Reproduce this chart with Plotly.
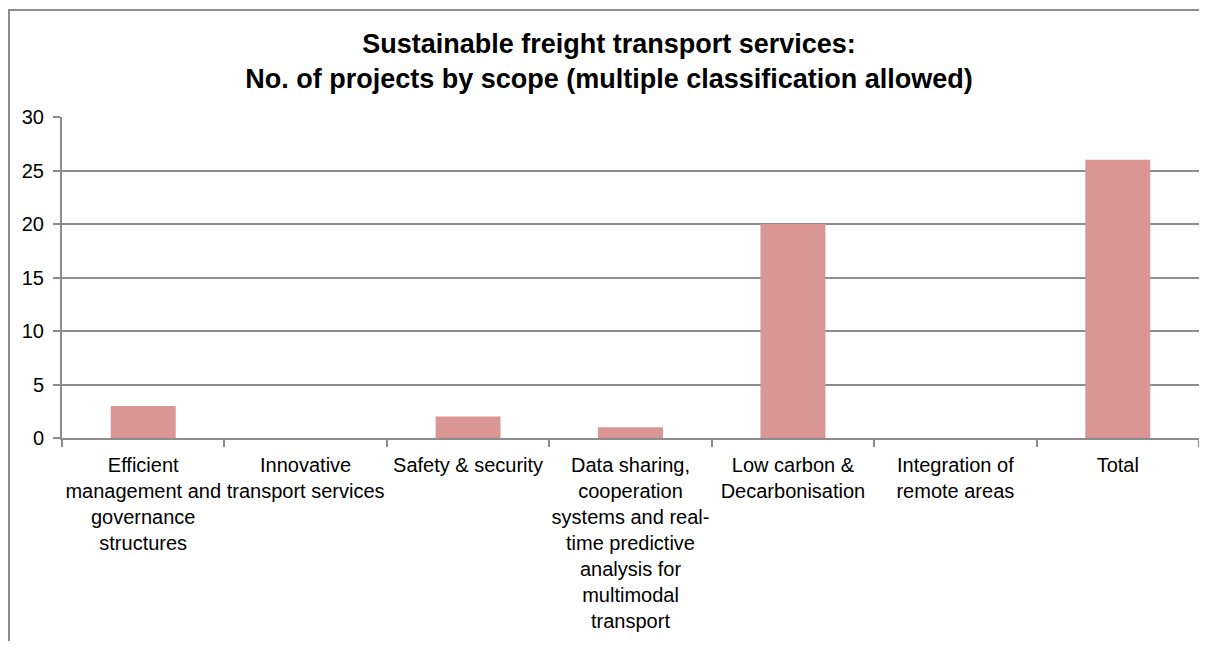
import plotly.graph_objects as go

categories = [
    "Efficient<br>management and<br>governance<br>structures",
    "Innovative<br>transport services",
    "Safety & security",
    "Data sharing,<br>cooperation<br>systems and real-<br>time predictive<br>analysis for<br>multimodal<br>transport",
    "Low carbon &<br>Decarbonisation",
    "Integration of<br>remote areas",
    "Total",
]
values = [3, 0, 2, 1, 20, 0, 26]
y_ticks = [0, 5, 10, 15, 20, 25, 30]

title_text = ("<b>Sustainable freight transport services:<br>"
              "No. of projects by scope (multiple classification allowed)</b>")

# page has an 8px body margin; figure coordinates are page coordinates - 8
W, H = 1191, 633
ml, mr, mt, mb = 54, 0, 109, 203
pw = W - ml - mr
ph = H - mt - mb

fig = go.Figure()
fig.add_trace(go.Bar(
    x=categories, y=values, width=0.4,
    marker=dict(color="#D99694", line=dict(width=0)),
))

fig.update_layout(
    width=W, height=H,
    margin=dict(l=ml, r=mr, t=mt, b=mb),
    paper_bgcolor="white", plot_bgcolor="white",
    font=dict(family="Liberation Sans, Arial", size=20, color="black"),
    showlegend=False,
    title=dict(text=title_text, x=601 / W, xref="container", xanchor="center",
               y=1 - 45 / H, yanchor="middle",
               font=dict(size=27, family="Liberation Sans, Arial", color="black")),
    bargap=0.6,
)
fig.update_xaxes(
    showline=True, linecolor="#8c8c8c", linewidth=2,
    ticks="outside", ticklen=7, tickcolor="#8c8c8c", tickwidth=2,
    tickson="boundaries", showgrid=False, tickangle=0,
    ticklabelstandoff=8,
    tickfont=dict(size=20),
)
fig.update_yaxes(
    range=[0, 30], tickvals=y_ticks, showgrid=True, gridcolor="#8c8c8c", gridwidth=1.5,
    showline=True, linecolor="#8c8c8c", linewidth=2,
    ticks="outside", ticklen=7, tickcolor="#8c8c8c", tickwidth=2,
    ticklabelstandoff=5, zeroline=False,
    tickfont=dict(size=20),
)

# outer chart frame (cut off at right and bottom like the reference)
fig.add_shape(type="rect", xref="paper", yref="paper",
              x0=-(ml - 1) / pw, x1=1.2, y0=-1.0, y1=(H - mb - 2) / ph,
              line=dict(color="#8c8c8c", width=2), fillcolor="rgba(0,0,0,0)", layer="below")

fig.write_html("out.html")
